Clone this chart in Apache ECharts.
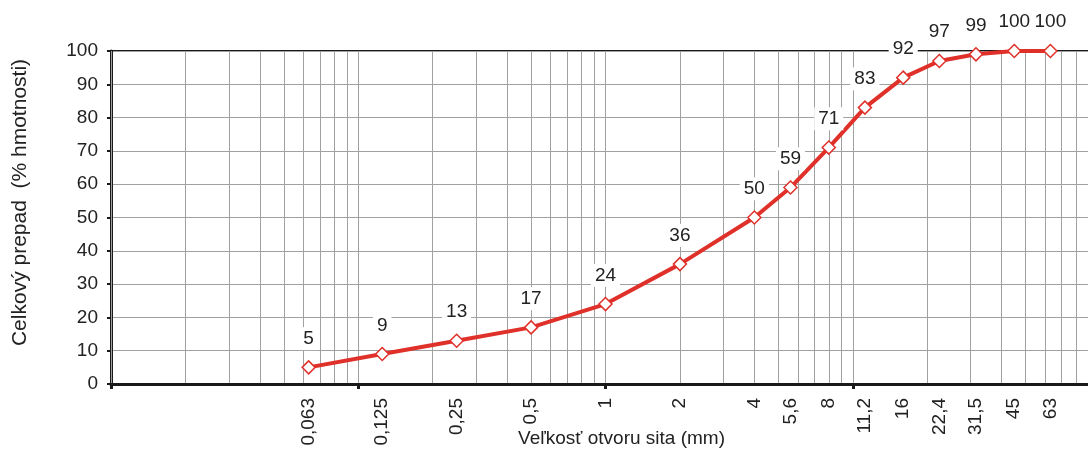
<!DOCTYPE html>
<html>
<head>
<meta charset="utf-8">
<script src="https://cdn.jsdelivr.net/npm/echarts@6/dist/echarts.min.js"></script>
<style>
  html, body { margin: 0; padding: 0; background: #fff; }
  #chart { width: 1088px; height: 450px; }
</style>
</head>
<body>
<div id="chart"></div>
<script>
// sieve sizes (mm) and cumulative passing (%)
const sieveSizes = [0.063, 0.125, 0.25, 0.5, 1, 2, 4, 5.6, 8, 11.2, 16, 22.4, 31.5, 45, 63];
const sieveLabels = ["0,063", "0,125", "0,25", "0,5", "1", "2", "4", "5,6", "8", "11,2", "16", "22,4", "31,5", "45", "63"];
const passing = [5, 9, 13, 17, 24, 36, 50, 59, 71, 83, 92, 97, 99, 100, 100];

// log grid: 1..9 in each decade
const decades = [0.01, 0.1, 1, 10];
const gridValues = [];
decades.forEach((d) => {
  for (let k = 1; k <= 9; k++) gridValues.push(+(d * k).toPrecision(3));
});
gridValues.push(100);

const colors = {
  line: "#e0302a",
  axis: "#1a1a1a",
  grid: "#a0a0a0",
  text: "#222",
};

const chart = echarts.init(document.getElementById("chart"), null, { renderer: "canvas" });

const labelFor = (v) => {
  for (let i = 0; i < sieveSizes.length; i++) {
    if (Math.abs(sieveSizes[i] - v) / sieveSizes[i] < 1e-6) return sieveLabels[i];
  }
  return "";
};

const options = {
  animation: false,
  backgroundColor: "#fff",
  textStyle: { fontFamily: "Liberation Sans, Arial, sans-serif" },
  grid: {
    left: 111,
    top: 51,
    width: 989,
    bottom: 66,
    outerBoundsMode: "none",
    containLabel: false,
    show: true,
    borderColor: colors.axis,
    borderWidth: 2,
    backgroundColor: "transparent",
  },
  xAxis: [
    {
      type: "log",
      logBase: 10,
      min: 0.01,
      max: 100,
      name: "Veľkosť otvoru sita (mm)",
      nameLocation: "middle",
      nameGap: 45,
      nameMoveOverlap: false,
      nameTextStyle: { fontSize: 19, color: colors.text, padding: [0, 0, 0, 32] },
      axisLine: { show: true, onZero: false, lineStyle: { color: colors.axis, width: 3 } },
      axisTick: { show: false, customValues: gridValues },
      splitLine: { show: true, lineStyle: { color: colors.grid, width: 1 } },
      axisLabel: {
        customValues: sieveSizes,
        rotate: 90,
        margin: 14,
        fontSize: 19,
        color: colors.text,
        formatter: (v) => labelFor(v),
      },
      z: 3,
    },
    {
      type: "log",
      logBase: 10,
      min: 0.01,
      max: 100,
      position: "bottom",
      axisLine: { show: false },
      axisTick: { show: true, length: 5, lineStyle: { color: colors.axis, width: 3 } },
      axisLabel: { show: false },
      splitLine: { show: false },
    },
  ],
  yAxis: {
    type: "value",
    min: 0,
    max: 100,
    interval: 10,
    name: "Celkový prepad  (% hmotnosti)",
    nameLocation: "middle",
    nameGap: 80,
    nameMoveOverlap: false,
    nameTextStyle: { fontSize: 21, color: colors.text, padding: [0, 0, 0, 30] },
    axisLine: { show: true, lineStyle: { color: colors.axis, width: 3 } },
    axisTick: { show: true, length: 4, lineStyle: { color: colors.axis, width: 2 } },
    splitLine: { show: true, lineStyle: { color: colors.grid, width: 1 } },
    axisLabel: { fontSize: 19, color: colors.text, margin: 13 },
  },
  series: [
    {
      type: "line",
      xAxisIndex: 0,
      data: sieveSizes.map((s, i) => [s, passing[i]]),
      symbol: "diamond",
      symbolSize: 13,
      showAllSymbol: true,
      lineStyle: { color: colors.line, width: 4 },
      itemStyle: { color: "#fff", borderColor: colors.line, borderWidth: 1.5 },
      label: {
        show: true,
        position: "top",
        distance: 10,
        fontSize: 19,
        color: colors.text,
        backgroundColor: "#fff",
        padding: [2, 4],
        formatter: (p) => p.value[1],
      },
      z: 5,
    },
  ],
};

chart.setOption(options);
</script>
</body>
</html>
